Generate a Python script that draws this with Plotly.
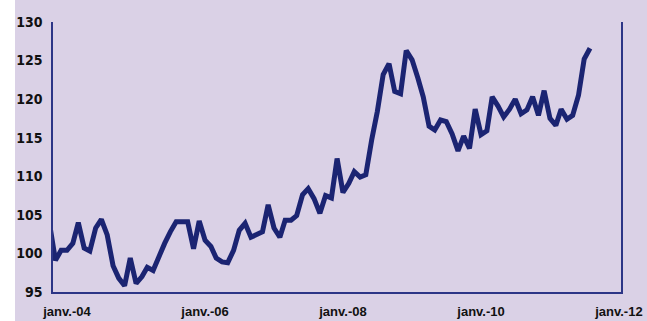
import pandas as pd
import plotly.graph_objects as go

# Monthly index values, Oct 2003 - Aug 2011
start_month = "2003-10-01"
index_values = [
    103.8,                                                        # 2003-10
    99.1, 100.4,                                                  # 2003-11..12
    100.4, 101.3, 104.0, 100.7, 100.3, 103.3, 104.4, 102.4, 98.4, 96.8, 95.8, 99.4,   # 2004
    96.1, 97.0, 98.2, 97.8, 99.6, 101.3, 102.8, 104.1, 104.1, 104.1, 100.6, 104.2,    # 2005
    101.7, 100.9, 99.4, 98.9, 98.8, 100.4, 103.0, 103.9, 102.1, 102.4, 102.8, 106.3,  # 2006
    103.3, 102.1, 104.3, 104.3, 104.9, 107.6, 108.4, 107.1, 105.2, 107.5, 107.2, 112.3,  # 2007
    107.9, 109.1, 110.6, 109.9, 110.2, 114.7, 118.4, 123.2, 124.6, 121.0, 120.7, 126.3,  # 2008
    125.1, 122.7, 120.3, 116.5, 116.0, 117.3, 117.1, 115.5, 113.3, 115.2, 113.6, 118.7,  # 2009
    115.4, 115.9, 120.3, 119.1, 117.7, 118.7, 120.0, 118.1, 118.6, 120.3, 117.9, 121.1,  # 2010
    117.5, 116.6, 118.7, 117.4, 117.9, 120.5, 125.2, 126.6,                              # 2011
]
dates = pd.date_range(start_month, periods=len(index_values), freq="MS")

tick_dates = ["2004-01-01", "2006-01-01", "2008-01-01", "2010-01-01", "2012-01-01"]
tick_labels = ["janv.-04", "janv.-06", "janv.-08", "janv.-10", "janv.-12"]
y_ticks = [95, 100, 105, 110, 115, 120, 125, 130]

W, H = 647, 321
ML, MR, MT, MB = 53, 26, 22, 29
PW, PH = W - ML - MR, H - MT - MB

BG = "#DAD1E6"
NAVY = "#1B2472"
AXIS = "#2C3586"

fig = go.Figure(
    go.Scatter(
        x=dates,
        y=index_values,
        mode="lines",
        line=dict(color=NAVY, width=5),
        hoverinfo="skip",
    )
)

# white strip down the left edge of the canvas
fig.add_shape(
    type="rect", xref="paper", yref="paper",
    x0=-ML / PW, x1=(15 - ML) / PW, y0=-MB / PH, y1=1 + MT / PH,
    fillcolor="white", line_width=0, layer="below",
)

fig.update_layout(
    width=W, height=H,
    margin=dict(l=ML, r=MR, t=MT, b=MB),
    paper_bgcolor=BG,
    plot_bgcolor=BG,
    showlegend=False,
    xaxis=dict(
        type="date",
        range=["2003-10-19", "2012-01-12"],
        tickvals=tick_dates,
        ticktext=tick_labels,
        tickfont=dict(family="Liberation Sans, Arial", size=13, color="#111111", weight="bold"),
        showgrid=False,
        zeroline=False,
        showline=True,
        linecolor=AXIS,
        linewidth=2,
        ticks="",
        ticklen=0,
        tickangle=0,
        automargin=False,
        ticklabelstandoff=6,
    ),
    yaxis=dict(
        range=[95, 130],
        tickvals=y_ticks,
        tickfont=dict(family="DejaVu Sans Condensed, Liberation Sans Narrow, Arial Narrow", size=14,
                      color="#111111", weight="bold"),
        showgrid=False,
        zeroline=False,
        showline=True,
        linecolor=AXIS,
        linewidth=1.5,
        mirror=True,
        ticks="",
        automargin=False,
        ticklabelstandoff=6,
    ),
)

fig.write_html("out.html")
